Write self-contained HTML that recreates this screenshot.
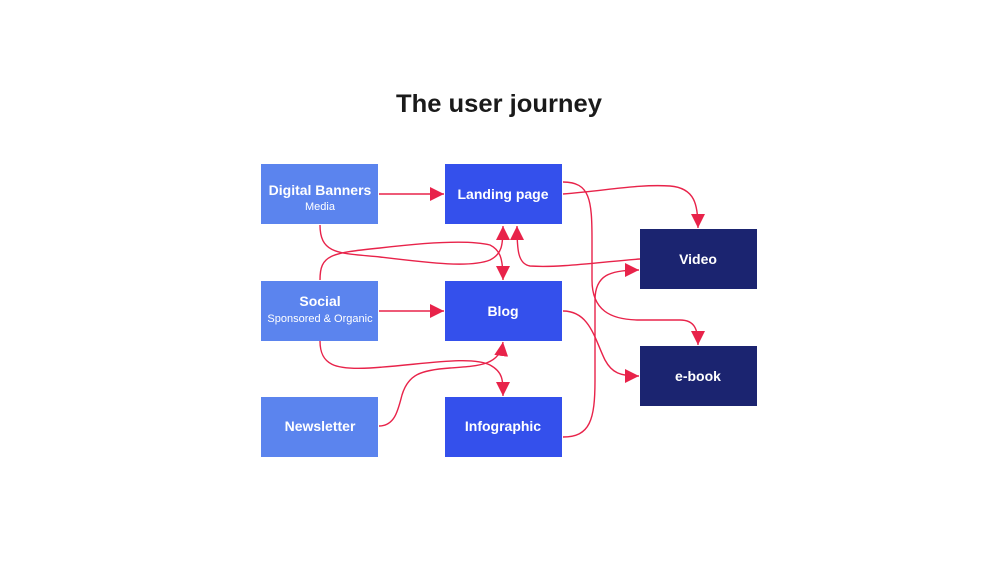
<!DOCTYPE html>
<html><head><meta charset="utf-8"><style>
html,body{margin:0;padding:0;background:#fff;}
svg{display:block;}
text{font-family:"Liberation Sans",Arial,sans-serif;font-weight:bold;fill:#fff;text-anchor:middle;}
</style></head><body>
<svg width="1000" height="563" viewBox="0 0 1000 563" xmlns="http://www.w3.org/2000/svg">
<defs>
<marker id="a" viewBox="0 0 10 10" refX="10" refY="5" markerWidth="14" markerHeight="14" markerUnits="userSpaceOnUse" orient="auto"><path d="M0,0 L10,5 L0,10 Z" fill="#E8234A"/></marker>
</defs>
<text x="499" y="112" font-size="25" style="fill:#1a1a1a" textLength="206" lengthAdjust="spacingAndGlyphs">The user journey</text>

<rect x="261" y="164" width="117" height="60" fill="#5B84EE"/>
<rect x="261" y="281" width="117" height="60" fill="#5B84EE"/>
<rect x="261" y="397" width="117" height="60" fill="#5B84EE"/>
<rect x="445" y="164" width="117" height="60" fill="#3450EC"/>
<rect x="445" y="281" width="117" height="60" fill="#3450EC"/>
<rect x="445" y="397" width="117" height="60" fill="#3450EC"/>
<rect x="640" y="229" width="117" height="60" fill="#1B2470"/>
<rect x="640" y="346" width="117" height="60" fill="#1B2470"/>

<text x="320" y="195" font-size="14">Digital Banners</text>
<text x="320" y="210" font-size="11" font-weight="normal" style="font-weight:normal">Media</text>
<text x="320" y="306" font-size="14">Social</text>
<text x="320" y="322" font-size="11" style="font-weight:normal">Sponsored &amp; Organic</text>
<text x="320" y="431" font-size="14">Newsletter</text>
<text x="503" y="199" font-size="14">Landing page</text>
<text x="503" y="316" font-size="14">Blog</text>
<text x="503" y="431" font-size="14">Infographic</text>
<text x="698" y="264" font-size="14">Video</text>
<text x="698" y="381" font-size="14">e-book</text>

<g fill="none" stroke="#E8234A" stroke-width="1.4">
<path d="M379,194 L444,194" marker-end="url(#a)"/>
<path d="M379,311 L444,311" marker-end="url(#a)"/>
<path d="M563,194 C610,190 640,184 670,186 C695,188 698,205 698,228" marker-end="url(#a)"/>
<path d="M563,182 C590,182 592,200 592,240 L592,280 C592,310 610,320 640,320 L680,320 C695,320 698,330 698,345" marker-end="url(#a)"/>
<path d="M640,259 C600,262 560,268 530,266 C518,264 517,250 517,226" marker-end="url(#a)"/>
<path d="M320,225 C320,255 340,253 380,257 C430,263 470,268 490,260 C502,254 503,245 503,226" marker-end="url(#a)"/>
<path d="M320,280 C320,255 330,253 380,248 C430,242 470,240 490,245 C500,250 503,258 503,280" marker-end="url(#a)"/>
<path d="M320,341 C320,365 335,370 370,368 C420,365 470,355 490,365 C503,372 503,380 503,396" marker-end="url(#a)"/>
<path d="M379,426 C395,426 398,410 402,395 C408,375 420,370 450,368 C480,366 500,365 503,342" marker-end="url(#a)"/>
<path d="M563,311 C590,311 595,340 605,360 C612,373 620,376 639,376" marker-end="url(#a)"/>
<path d="M563,437 C590,437 595,420 595,380 L595,300 C595,275 610,270 639,270" marker-end="url(#a)"/>
</g>
</svg>
</body></html>
